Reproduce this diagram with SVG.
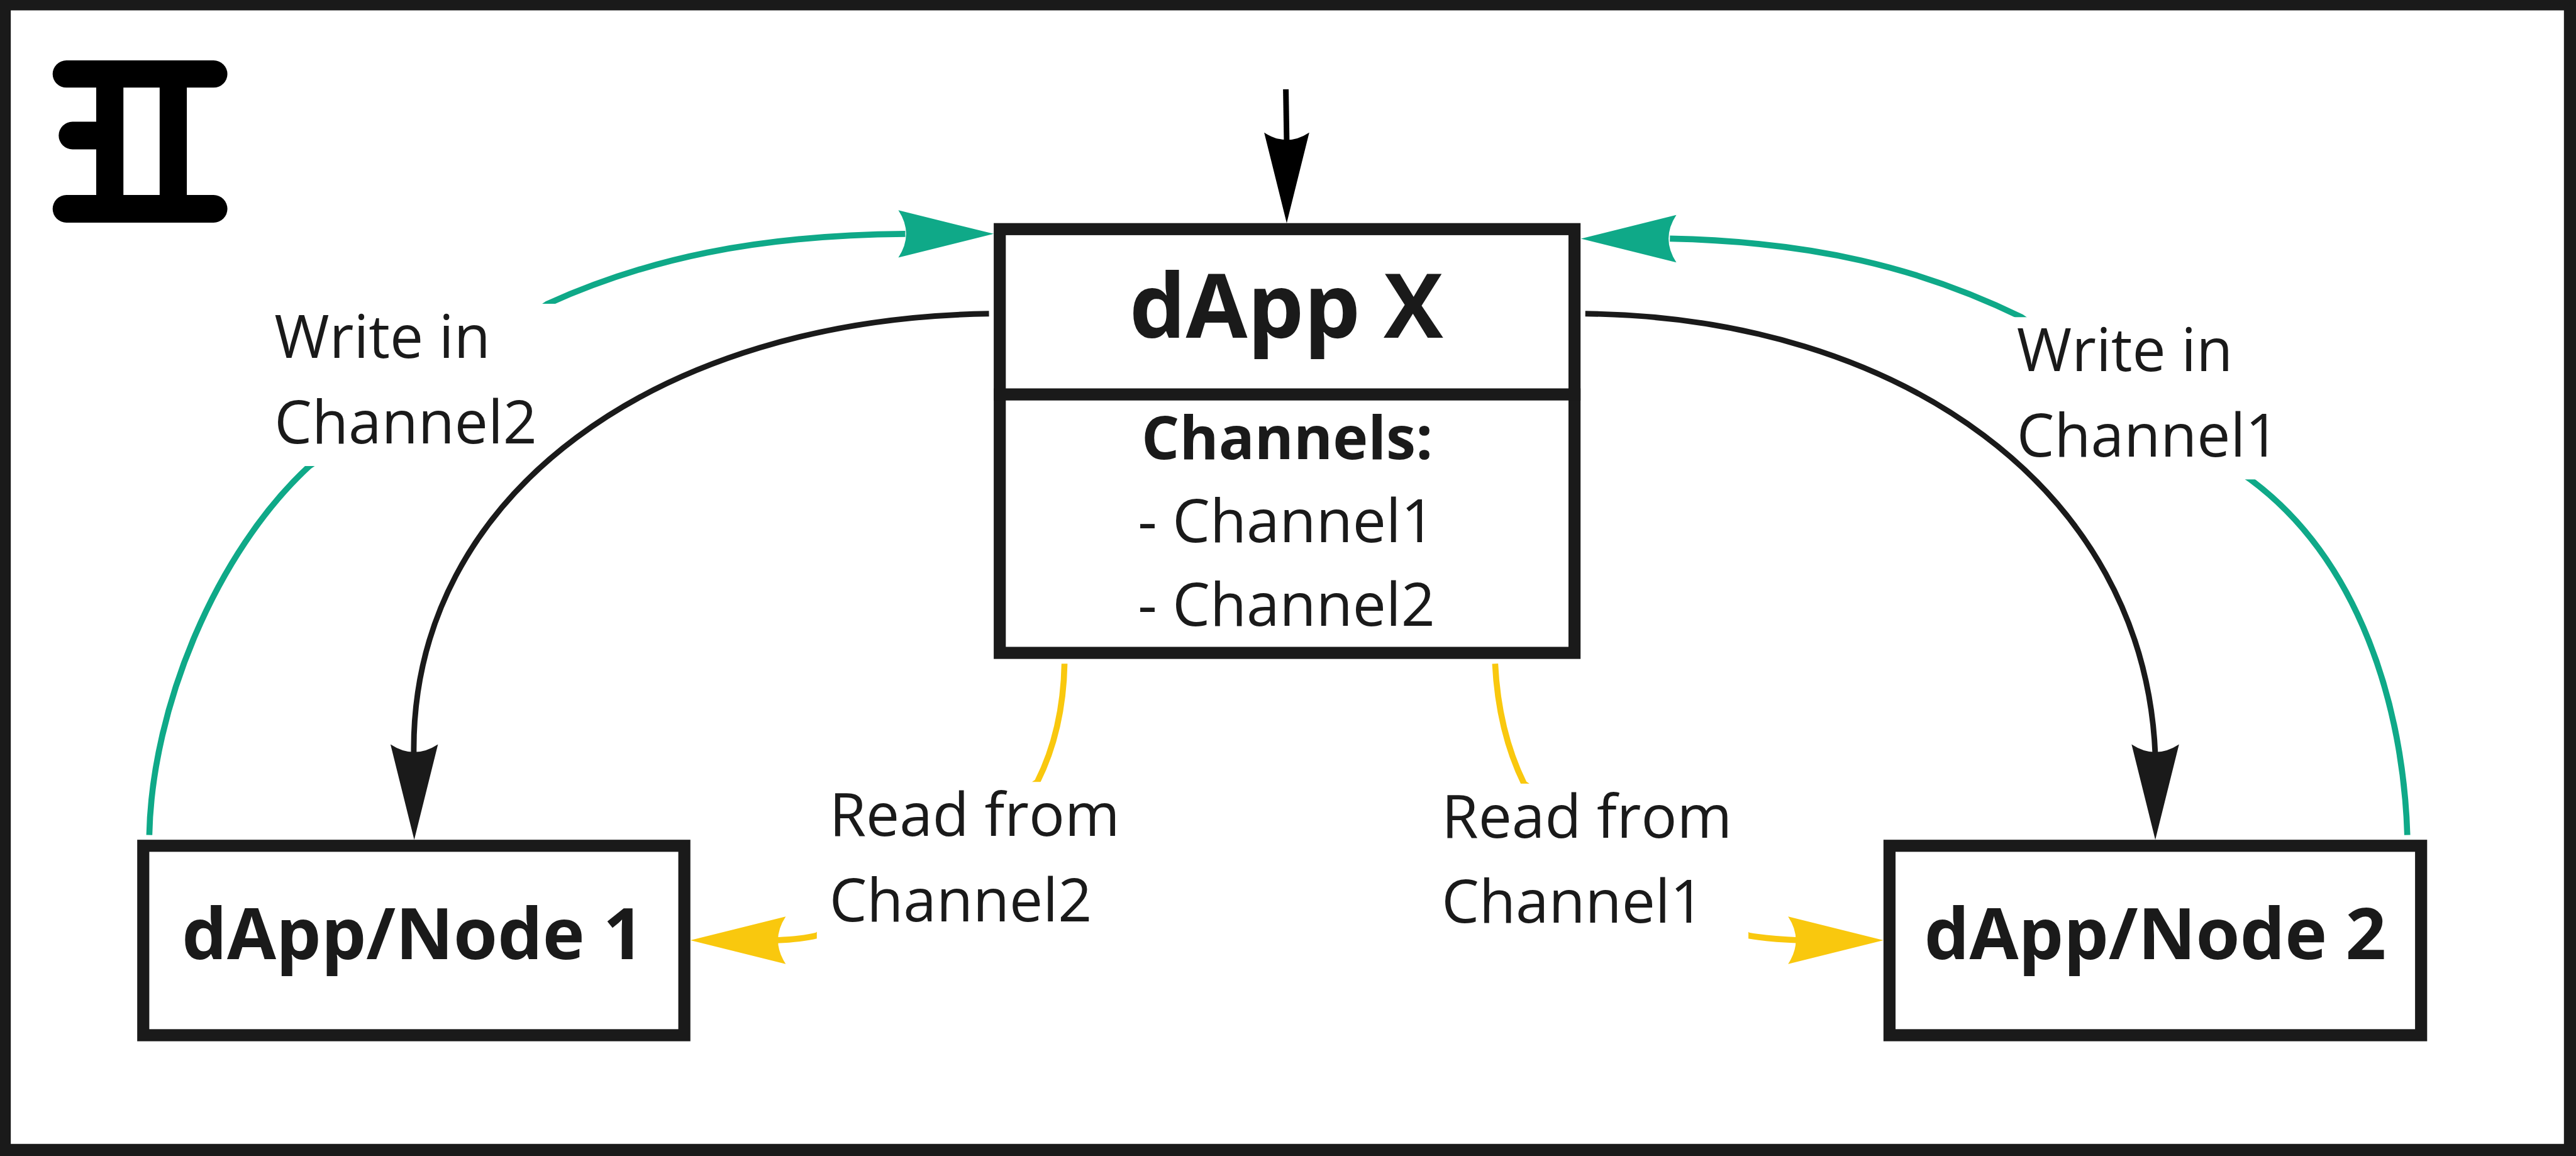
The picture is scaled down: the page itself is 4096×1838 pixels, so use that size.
<svg xmlns="http://www.w3.org/2000/svg" width="4096" height="1838" viewBox="0 0 4096 1838">
<style>
text{font-family:"Open Sans","Noto Sans","Liberation Sans",sans-serif;fill:#1a1a1a}
.lbl{font-size:138px}
.ctr{text-anchor:middle}
.b{font-weight:700}
.box{fill:#fff;stroke:#1a1a1a;stroke-width:28}
.ln{fill:none;stroke-width:14}
.k{stroke:#1a1a1a;stroke-width:13}.t{stroke:#000;stroke-width:13}.g{stroke:#0fa988}.y{stroke:#f9c80e}
.hk{fill:#1a1a1a}.hb{fill:#000}.hg{fill:#0fa988}.hy{fill:#f9c80e}
.bg{fill:#fff}
</style>
<defs>
<path id="head" d="M0 0L55-221Q0-185-55-221Z"/>
</defs>
<rect width="4096" height="1838" fill="#fff"/>
<g transform="scale(.6861)">
<path id="frame" fill="#1a1a1a" fill-rule="evenodd" d="M0 0H5970V2679H0ZM25 24V2651H5942V24Z"/>
<g id="logo" fill="#000">
<rect x="122" y="140" width="405" height="63" rx="32"/>
<rect x="122" y="452" width="405" height="64" rx="32"/>
<rect x="136" y="282" width="120" height="64" rx="32"/>
<rect x="223" y="170" width="63" height="320"/>
<rect x="370" y="170" width="63" height="320"/>
</g>
<g id="dapp-x">
<rect class="box" x="2317" y="531" width="1332" height="982"/>
<path d="M2303 914H3663" fill="none" stroke="#1a1a1a" stroke-width="28"/>
<text class="b ctr" x="2981" y="782" font-size="207">dApp X</text>
<text class="b ctr lbl" x="2983" y="1064">Channels:</text>
<text class="lbl" x="2637" y="1257">- Channel1</text>
<text class="lbl" x="2637" y="1450">- Channel2</text>
</g>
<g id="node-1">
<rect class="box" x="332" y="1960" width="1254" height="439"/>
<text class="b ctr" x="957" y="2222" font-size="165">dApp/Node 1</text>
</g>
<g id="node-2">
<rect class="box" x="4379" y="1960" width="1232" height="439"/>
<text class="b ctr" x="4995" y="2222" font-size="165">dApp/Node 2</text>
</g>
<g id="connectors">
<path class="ln g" d="M346 1935C352 1640 500 1280 717 1080L1269 704C1500 600 1750 545 2098 542"/>
<use href="#head" class="hg" transform="translate(2303 542) rotate(-90)"/>
<path class="ln g" d="M5579 1935C5570 1640 5470 1300 5215 1111L4685 735C4450 620 4200 560 3870 553"/>
<use href="#head" class="hg" transform="translate(3664 553) rotate(90)"/>
<path class="ln y" d="M2467 1538C2465 1640 2445 1730 2404 1812L1893 2168C1870 2174 1840 2177 1800 2179"/>
<use href="#head" class="hy" transform="translate(1600 2179) rotate(90)"/>
<path class="ln y" d="M3465 1538C3470 1640 3490 1730 3532 1816L4052 2168C4085 2174 4120 2177 4170 2179"/>
<use href="#head" class="hy" transform="translate(4365 2179) rotate(-90)"/>
<rect class="bg" x="630" y="704" width="660" height="376"/>
<rect class="bg" x="4660" y="735" width="580" height="376"/>
<rect class="bg" x="1893" y="1812" width="660" height="380"/>
<rect class="bg" x="3330" y="1816" width="722" height="376"/>
<path class="ln t" d="M2980 207L2982 330"/>
<use href="#head" class="hb" transform="translate(2982 517) scale(.95)"/>
<path class="ln k" d="M2292 727C1530 738 950 1140 959 1750"/>
<use href="#head" class="hk" transform="translate(960 1946)"/>
<path class="ln k" d="M3674 727C4400 735 4970 1130 4995 1750"/>
<use href="#head" class="hk" transform="translate(4995 1946)"/>
<text class="lbl" x="636" y="830">Write in</text>
<text class="lbl" x="636" y="1027">Channel2</text>
<text class="lbl" x="4674" y="860">Write in</text>
<text class="lbl" x="4674" y="1058">Channel1</text>
<text class="lbl" x="1922" y="1937">Read from</text>
<text class="lbl" x="1922" y="2135">Channel2</text>
<text class="lbl" x="3341" y="1941">Read from</text>
<text class="lbl" x="3341" y="2138">Channel1</text>
</g>
</g>
</svg>
